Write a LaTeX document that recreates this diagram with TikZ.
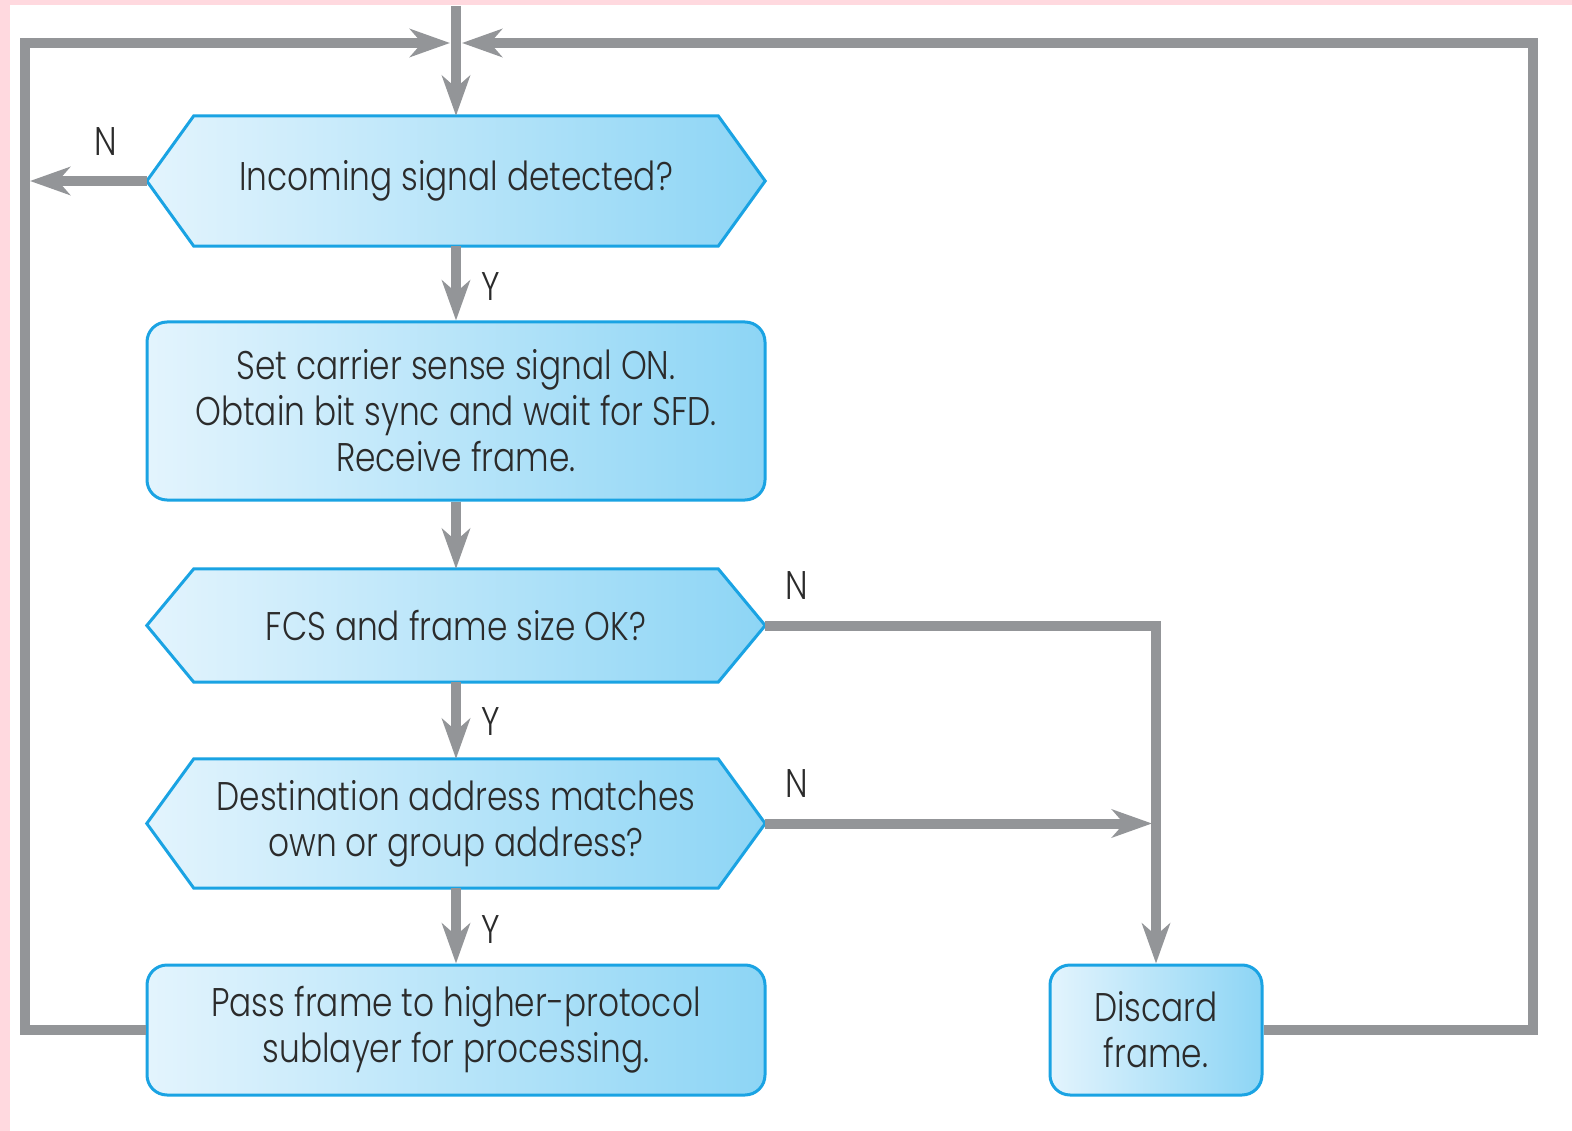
\documentclass[tikz,border=0pt]{standalone}
\usepackage{fontspec}
\setmainfont{Poppins}[UprightFont=* Light, FakeStretch=0.82]
\usetikzlibrary{arrows.meta,backgrounds,calc}

\definecolor{flowgray}{HTML}{939598}
\definecolor{boxedge}{HTML}{1AA3E3}
\definecolor{boxlight}{HTML}{E3F4FD}
\definecolor{boxdeep}{HTML}{8DD5F5}
\definecolor{ink}{HTML}{2B2B2B}
\definecolor{pinkedge}{HTML}{FFD9DF}

\tikzset{
  txt/.style={text=ink, font=\fontsize{40}{46}\selectfont},
  box/.style={txt, draw=boxedge, line width=3pt, rounded corners=20pt,
    left color=boxlight, right color=boxdeep, align=center, inner sep=0pt},
  hexbox/.style={txt, shape=rectangle, align=center, inner sep=0pt},
  hexshape/.style={draw=boxedge, line width=3pt, line join=miter,
    left color=boxlight, right color=boxdeep},
  flow/.style={draw=flowgray, line width=10pt, line join=miter},
  tip/.style={-{Stealth[length=40pt,width=28pt,inset=12pt]}},
  lbl/.style={txt, inner sep=0pt},
}

\begin{document}
\begin{tikzpicture}[x=1pt,y=-1pt]
\useasboundingbox (0,0) rectangle (1572,1131);

% page edge tint
\begin{scope}[on background layer]
  \fill[white] (0,0) rectangle (1572,1131);
  \fill[pinkedge] (0,0) rectangle (10,1131);
  \fill[pinkedge] (0,0) rectangle (1572,5);
\end{scope}

% decisions and actions
\node[hexbox, minimum width=618pt, minimum height=130pt] (h1) at (456,181) {Incoming signal detected?};
\node[box, minimum width=618pt, minimum height=178pt] (r2) at (456,411)
  {Set carrier sense signal ON.\\Obtain bit sync and wait for SFD.\\Receive frame.};
\node[hexbox, minimum width=618pt, minimum height=113pt] (h3) at (456,625.5) {FCS and frame size OK?};
\node[hexbox, minimum width=618pt, minimum height=129pt] (h4) at (456,823.5)
  {Destination address matches\\own or group address?};
\node[box, minimum width=618pt, minimum height=130pt] (r5) at (456,1030)
  {Pass frame to higher-protocol\\sublayer for processing.};
\node[box, minimum width=212pt, minimum height=130pt] (dc) at (1156,1030) {Discard\\frame.};

% hexagonal outlines behind the decision texts
\begin{scope}[on background layer]
  \foreach \h in {h1,h3,h4}
    \path[hexshape] (\h.west) -- ([xshift=47pt]\h.north west) -- ([xshift=-47pt]\h.north east)
      -- (\h.east) -- ([xshift=-47pt]\h.south east) -- ([xshift=47pt]\h.south west) -- cycle;
\end{scope}

% branch labels
\node[lbl] (n1) at (106,142) {N};
\node[lbl] (y1) at (491,287) {Y};
\node[lbl] (n3) at (797,586) {N};
\node[lbl] (y3) at (491,722) {Y};
\node[lbl] (n4) at (797,784) {N};
\node[lbl] (y4) at (491,930) {Y};

% helper points of the return loops
\coordinate (top) at (456,6);
\coordinate (jl) at (450,43);
\coordinate (jr) at (462,43);
\coordinate (lft) at (25,43);
\coordinate (lftin) at (30,43);
\coordinate (rgt) at (1533,43);
\coordinate (busin) at (1152,43);

% connectors
\draw[flow,tip] (top) -- (h1.north);
\draw[flow,tip] (h1.south) -- (r2.north);
\draw[flow,tip] (r2.south) -- (h3.north);
\draw[flow,tip] (h3.south) -- (h4.north);
\draw[flow,tip] (h4.south) -- (r5.north);
\draw[flow,tip] (h1.west) -- (h1.west -| lftin);
\draw[flow,tip] (h3.east) -| (dc.north);
\draw[flow,tip] (h4.east) -- (h4.east -| busin);
\draw[flow,tip] (r5.west) -- (r5.west -| lft) |- (jl);
\draw[flow,tip] (dc.east) -- (dc.east -| rgt) |- (jr);
\end{tikzpicture}
\end{document}
